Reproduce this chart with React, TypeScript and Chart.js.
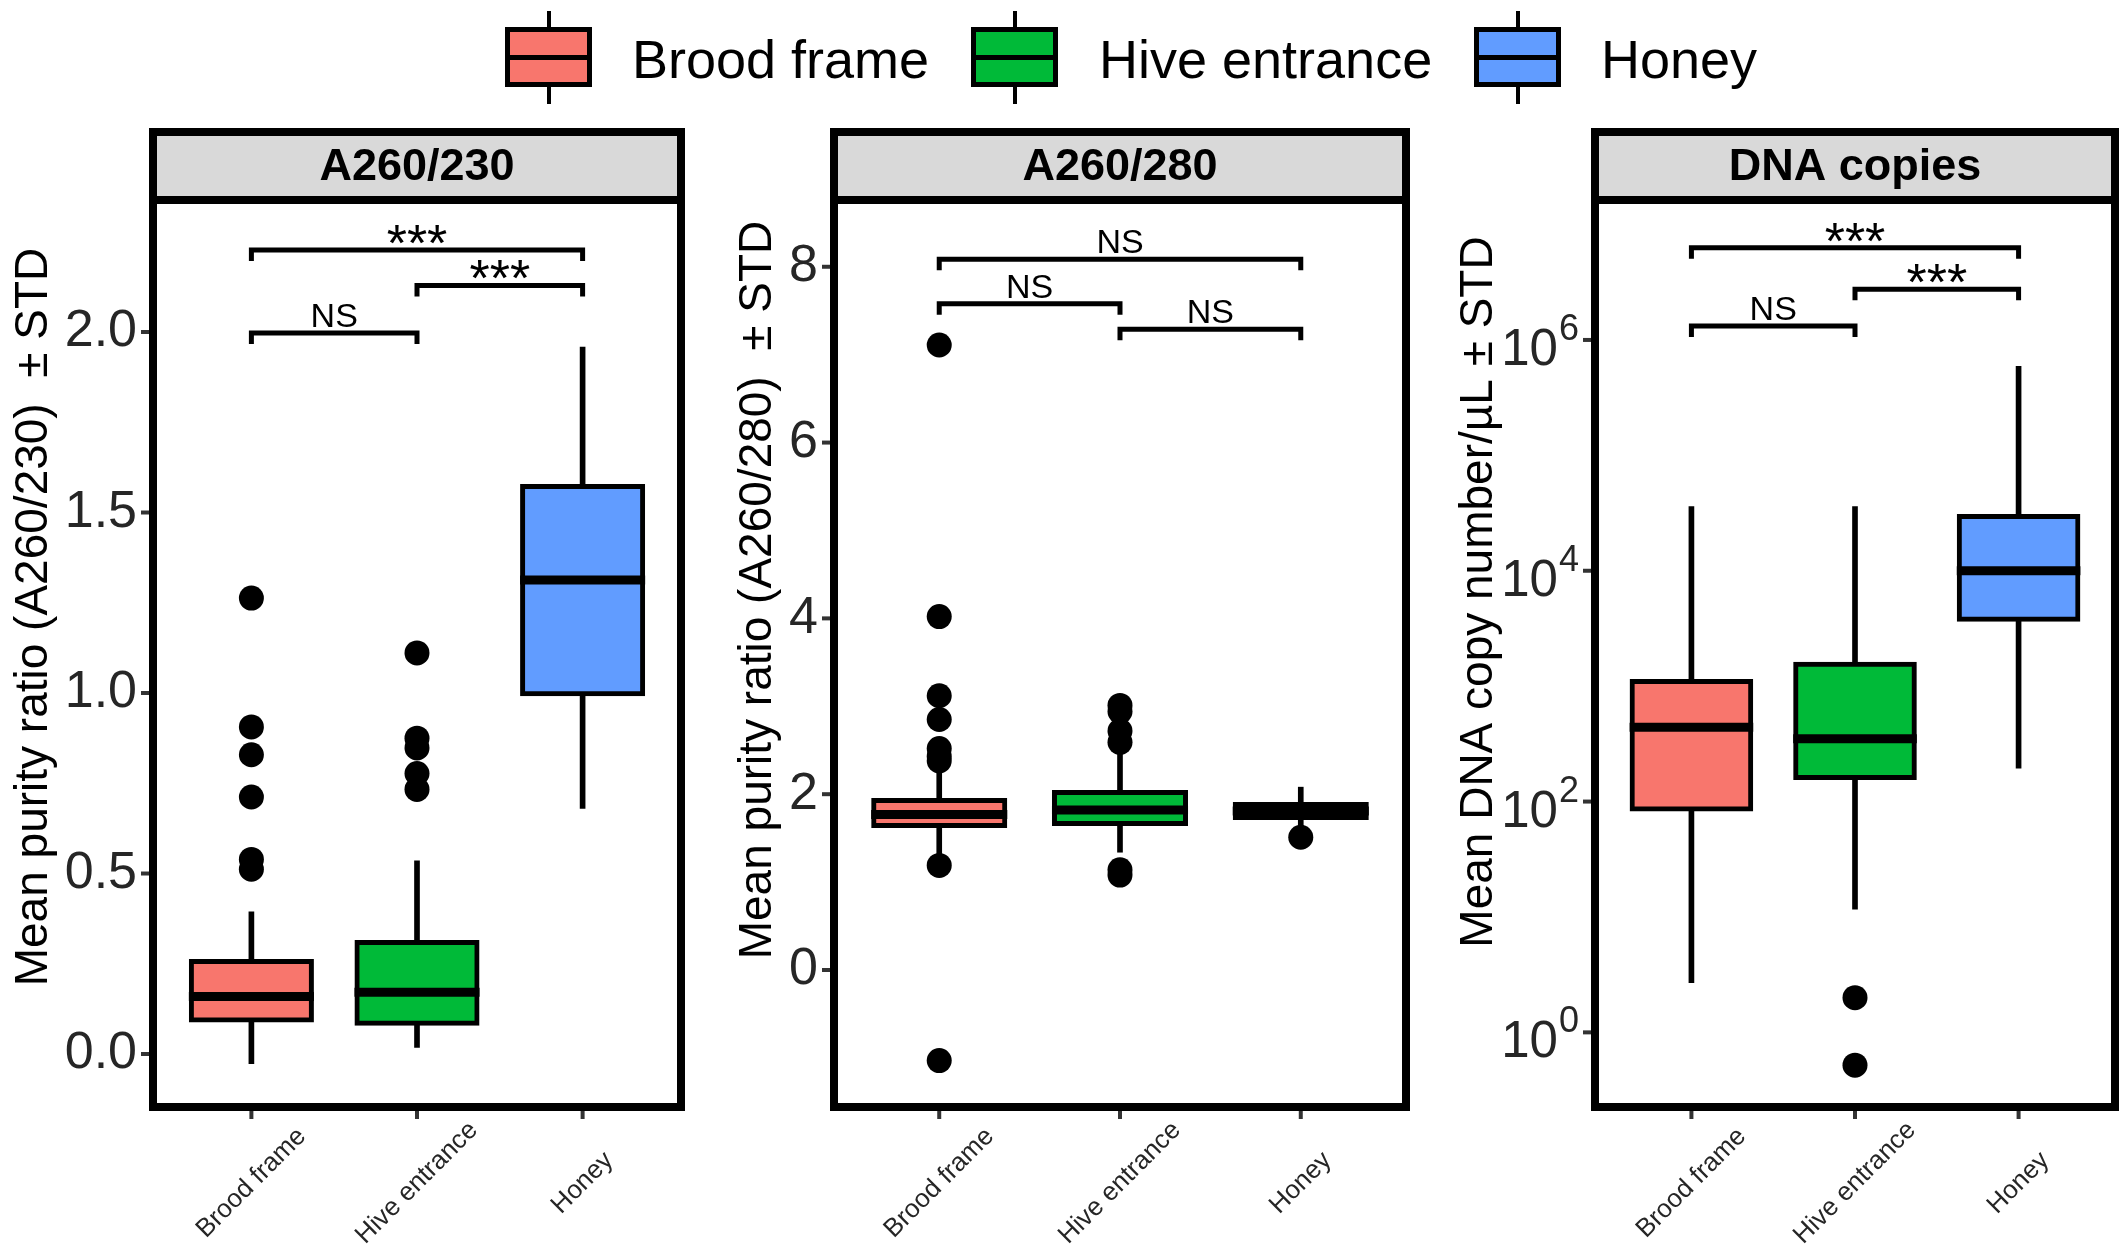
import React, { useEffect, useRef } from 'react';
import { Chart, registerables } from 'chart.js';

Chart.register(...registerables);

// ---------------- DATA ----------------
const CATEGORIES = ['Brood frame', 'Hive entrance', 'Honey'];
const COLORS = ['#F8766D', '#00BA38', '#619CFF'];

// Panel 1: A260/230
const P1_LOW = [-0.027, 0.018, 0.68];
const P1_Q1 = [0.094, 0.085, 0.998];
const P1_MED = [0.159, 0.171, 1.313];
const P1_Q3 = [0.256, 0.309, 1.572];
const P1_HIGH = [0.394, 0.535, 1.958];
const P1_OUTLIERS = [
  [1.263, 0.906, 0.829, 0.712, 0.539, 0.512],
  [1.111, 0.875, 0.848, 0.777, 0.733],
  [],
];
const P1_TICKS = [0, 0.5, 1, 1.5, 2];
const P1_TICK_LABELS = ['0.0', '0.5', '1.0', '1.5', '2.0'];
const P1_SIG_FROM = [1, 2, 1];
const P1_SIG_TO = [2, 3, 3];
const P1_SIG_Y = [1.997, 2.129, 2.227];
const P1_SIG_LABEL = ['NS', '***', '***'];

// Panel 2: A260/280
const P2_LOW = [1.3, 1.34, 1.6];
const P2_Q1 = [1.644, 1.667, 1.735];
const P2_MED = [1.769, 1.82, 1.81];
const P2_Q3 = [1.928, 2.019, 1.883];
const P2_HIGH = [2.33, 2.55, 2.08];
const P2_OUTLIERS = [
  [7.11, 4.02, 3.12, 2.85, 2.52, 2.43, 2.38, 1.19, -1.03],
  [3.01, 2.94, 2.72, 2.59, 1.14, 1.08],
  [1.51],
];
const P2_TICKS = [0, 2, 4, 6, 8];
const P2_TICK_LABELS = ['0', '2', '4', '6', '8'];
const P2_SIG_FROM = [1, 2, 1];
const P2_SIG_TO = [2, 3, 3];
const P2_SIG_Y = [7.58, 7.29, 8.085];
const P2_SIG_LABEL = ['NS', 'NS', 'NS'];

// Panel 3: DNA copies (log scale)
const P3_LOW = [2.7, 11.7, 195];
const P3_Q1 = [86, 162, 3800];
const P3_MED = [440, 350, 10000];
const P3_Q3 = [1100, 1550, 29500];
const P3_HIGH = [36000, 36000, 590000];
const P3_OUTLIERS = [[], [2.0, 0.52], []];
const P3_TICKS = [1, 100, 10000, 1000000];
const P3_TICK_EXPONENTS = ['0', '2', '4', '6'];
const P3_SIG_FROM = [1, 2, 1];
const P3_SIG_TO = [2, 3, 3];
const P3_SIG_Y = [1.32e6, 2.75e6, 6.3e6];
const P3_SIG_LABEL = ['NS', '***', '***'];

// ---------------- STYLE / LAYOUT ----------------
const FONT = '"Liberation Sans", Arial, Helvetica, sans-serif';
const CANVAS_H = 1256;
const AREA_TOP = 204;
const AREA_BOTTOM = 1103;
const STRIP_TOP = 128;
const BORDER = 8;
const X_LABEL_Y = 1183;
const TEXT_COLOR = '#262626';

type PanelCfg = {
  title: string;
  yTitle: string;
  low: number[];
  q1: number[];
  med: number[];
  q3: number[];
  high: number[];
  outliers: number[][];
  ticks: number[];
  tickLabels: string[];
  log: boolean;
  sigFrom: number[];
  sigTo: number[];
  sigY: number[];
  sigLabel: string[];
  yMin: number;
  yMax: number;
  xMin: number;
  xMax: number;
  canvasLeft: number;
  canvasWidth: number;
  areaLeft: number;
  areaRight: number;
  titleX: number;
  titleY: number;
};

const PANELS: PanelCfg[] = [
  {
    title: 'A260/230',
    yTitle: 'Mean purity ratio (A260/230)  \u00B1 STD',
    low: P1_LOW, q1: P1_Q1, med: P1_MED, q3: P1_Q3, high: P1_HIGH, outliers: P1_OUTLIERS,
    ticks: P1_TICKS, tickLabels: P1_TICK_LABELS, log: false,
    sigFrom: P1_SIG_FROM, sigTo: P1_SIG_TO, sigY: P1_SIG_Y, sigLabel: P1_SIG_LABEL,
    yMin: -0.1357, yMax: 2.3546, xMin: 0.43, xMax: 3.57,
    canvasLeft: 0, canvasWidth: 720, areaLeft: 157, areaRight: 677, titleX: 47, titleY: 617,
  },
  {
    title: 'A260/280',
    yTitle: 'Mean purity ratio (A260/280)  \u00B1 STD',
    low: P2_LOW, q1: P2_Q1, med: P2_MED, q3: P2_Q3, high: P2_HIGH, outliers: P2_OUTLIERS,
    ticks: P2_TICKS, tickLabels: P2_TICK_LABELS, log: false,
    sigFrom: P2_SIG_FROM, sigTo: P2_SIG_TO, sigY: P2_SIG_Y, sigLabel: P2_SIG_LABEL,
    yMin: -1.513, yMax: 8.714, xMin: 0.44, xMax: 3.56,
    canvasLeft: 720, canvasWidth: 720, areaLeft: 118, areaRight: 682, titleX: 51, titleY: 590,
  },
  {
    title: 'DNA copies',
    yTitle: 'Mean DNA copy number/\u00B5L \u00B1 STD',
    low: P3_LOW, q1: P3_Q1, med: P3_MED, q3: P3_Q3, high: P3_HIGH, outliers: P3_OUTLIERS,
    ticks: P3_TICKS, tickLabels: P3_TICK_EXPONENTS, log: true,
    sigFrom: P3_SIG_FROM, sigTo: P3_SIG_TO, sigY: P3_SIG_Y, sigLabel: P3_SIG_LABEL,
    yMin: Math.pow(10, -0.612), yMax: Math.pow(10, 7.178), xMin: 0.435, xMax: 3.565,
    canvasLeft: 1440, canvasWidth: 688, areaLeft: 159, areaRight: 671, titleX: 52, titleY: 592,
  },
];

function makePlugin(cfg: PanelCfg) {
  return {
    id: 'panelDecor',
    afterDraw(chart: any) {
      const ctx: CanvasRenderingContext2D = chart.ctx;
      const { left, right, top, bottom } = chart.chartArea;
      const xs = chart.scales.x;
      const ys = chart.scales.y;
      ctx.save();

      // medians
      const meta = chart.getDatasetMeta(0);
      ctx.strokeStyle = '#000';
      ctx.lineWidth = 9;
      ctx.lineCap = 'butt';
      meta.data.forEach((el: any, i: number) => {
        const p = el.getProps(['x', 'width'], true);
        const py = ys.getPixelForValue(cfg.med[i]);
        const half = p.width / 2 + 2.5;
        ctx.beginPath();
        ctx.moveTo(p.x - half, py);
        ctx.lineTo(p.x + half, py);
        ctx.stroke();
      });

      // strip background
      ctx.fillStyle = '#D9D9D9';
      ctx.fillRect(left - BORDER, STRIP_TOP, right - left + 2 * BORDER, top - STRIP_TOP);
      // strip title
      ctx.fillStyle = '#000';
      ctx.font = `bold 45px ${FONT}`;
      ctx.textAlign = 'center';
      ctx.textBaseline = 'middle';
      ctx.fillText(cfg.title, (left + right) / 2, (STRIP_TOP + BORDER + top - BORDER) / 2 + 2);

      // borders
      ctx.strokeStyle = '#000';
      ctx.lineWidth = BORDER;
      ctx.lineJoin = 'miter';
      ctx.strokeRect(left - BORDER / 2, STRIP_TOP + BORDER / 2, right - left + BORDER, bottom - STRIP_TOP);
      ctx.beginPath();
      ctx.moveTo(left - BORDER, top - BORDER / 2);
      ctx.lineTo(right + BORDER, top - BORDER / 2);
      ctx.stroke();

      // y tick marks
      ctx.strokeStyle = '#333';
      ctx.lineWidth = 4;
      cfg.ticks.forEach((v) => {
        const py = ys.getPixelForValue(v);
        ctx.beginPath();
        ctx.moveTo(left - BORDER - 8, py);
        ctx.lineTo(left - BORDER, py);
        ctx.stroke();
      });

      // log axis labels with superscripts
      if (cfg.log) {
        ctx.fillStyle = TEXT_COLOR;
        ctx.textAlign = 'right';
        ctx.textBaseline = 'alphabetic';
        cfg.ticks.forEach((v, i) => {
          const py = ys.getPixelForValue(v);
          const xr = left - 20;
          ctx.font = `36px ${FONT}`;
          const sup = cfg.tickLabels[i];
          const sw = ctx.measureText(sup).width;
          ctx.fillText(sup, xr, py);
          ctx.font = `51px ${FONT}`;
          ctx.fillText('10', xr - sw - 1, py + 25);
        });
      }

      // x tick marks + labels
      CATEGORIES.forEach((c, i) => {
        const px = xs.getPixelForValue(i + 1);
        ctx.strokeStyle = '#333';
        ctx.lineWidth = 4;
        ctx.beginPath();
        ctx.moveTo(px, bottom + BORDER);
        ctx.lineTo(px, bottom + BORDER + 8);
        ctx.stroke();
        ctx.save();
        ctx.translate(px, X_LABEL_Y);
        ctx.rotate(-Math.PI / 4);
        ctx.fillStyle = TEXT_COLOR;
        ctx.font = `26px ${FONT}`;
        ctx.textAlign = 'center';
        ctx.textBaseline = 'middle';
        ctx.fillText(c, 0, 0);
        ctx.restore();
      });

      // significance brackets
      ctx.strokeStyle = '#000';
      ctx.lineWidth = 5;
      ctx.fillStyle = '#000';
      cfg.sigY.forEach((yv, i) => {
        const py = ys.getPixelForValue(yv);
        const x1 = xs.getPixelForValue(cfg.sigFrom[i]);
        const x2 = xs.getPixelForValue(cfg.sigTo[i]);
        ctx.beginPath();
        ctx.moveTo(x1, py + 11);
        ctx.lineTo(x1, py);
        ctx.lineTo(x2, py);
        ctx.lineTo(x2, py + 11);
        ctx.stroke();
        const lab = cfg.sigLabel[i];
        ctx.textAlign = 'center';
        ctx.textBaseline = 'alphabetic';
        if (lab === 'NS') {
          ctx.font = `34px ${FONT}`;
          ctx.fillText(lab, (x1 + x2) / 2, py - 6);
        } else {
          ctx.font = `52px ${FONT}`;
          ctx.fillText(lab, (x1 + x2) / 2, py + 11);
        }
      });

      // y axis title
      ctx.save();
      ctx.translate(cfg.titleX, cfg.titleY);
      ctx.rotate(-Math.PI / 2);
      ctx.fillStyle = '#000';
      ctx.font = `46px ${FONT}`;
      ctx.textAlign = 'center';
      ctx.textBaseline = 'alphabetic';
      ctx.fillText(cfg.yTitle, 0, 0);
      ctx.restore();

      ctx.restore();
    },
  };
}

function Panel({ cfg }: { cfg: PanelCfg }) {
  const ref = useRef<HTMLCanvasElement | null>(null);
  useEffect(() => {
    if (!ref.current) return;
    const boxData = CATEGORIES.map((_, i) => ({ x: i + 1, y: [cfg.q1[i], cfg.q3[i]] }));
    const whiskerData = CATEGORIES.map((_, i) => ({ x: i + 1, y: [cfg.low[i], cfg.high[i]] }));
    const outlierData: { x: number; y: number }[] = [];
    cfg.outliers.forEach((arr, i) => arr.forEach((v) => outlierData.push({ x: i + 1, y: v })));

    const chart = new Chart(ref.current, {
      type: 'bar',
      data: {
        datasets: [
          {
            type: 'bar',
            label: 'box',
            data: boxData as any,
            backgroundColor: COLORS,
            borderColor: '#000',
            borderWidth: 5,
            borderSkipped: false,
            inflateAmount: 2.5,
            grouped: false,
            categoryPercentage: 1,
            barPercentage: 0.725,
            order: 1,
          } as any,
          {
            type: 'bar',
            label: 'whisker',
            data: whiskerData as any,
            backgroundColor: '#000',
            borderWidth: 0,
            grouped: false,
            categoryPercentage: 1,
            barPercentage: 1,
            maxBarThickness: 5,
            order: 2,
          } as any,
          {
            type: 'scatter',
            label: 'outliers',
            data: outlierData as any,
            pointRadius: 12.5,
            pointBackgroundColor: '#000',
            pointBorderWidth: 0,
            showLine: false,
            order: 0,
          } as any,
        ],
      },
      options: {
        animation: false,
        responsive: false,
        events: [],
        layout: {
          padding: {
            left: 0,
            right: cfg.canvasWidth - cfg.areaRight,
            top: AREA_TOP,
            bottom: CANVAS_H - AREA_BOTTOM,
          },
        },
        plugins: { legend: { display: false }, tooltip: { enabled: false } },
        scales: {
          x: {
            type: 'linear',
            min: cfg.xMin,
            max: cfg.xMax,
            offset: false,
            bounds: 'data',
            display: false,
            grid: { offset: false },
            afterBuildTicks: (s: any) => {
              s.ticks = CATEGORIES.map((_, i) => ({ value: i + 1 }));
            },
          },
          y: {
            type: cfg.log ? 'logarithmic' : 'linear',
            position: 'left',
            min: cfg.yMin,
            max: cfg.yMax,
            offset: false,
            grid: { display: false, drawTicks: false },
            border: { display: false },
            ticks: {
              display: !cfg.log,
              autoSkip: false,
              padding: 20,
              color: TEXT_COLOR,
              font: { family: FONT, size: 52 },
              callback: (_v: any, i: number) => cfg.tickLabels[i],
            },
            afterBuildTicks: (s: any) => {
              s.ticks = cfg.ticks.map((v) => ({ value: v }));
            },
            afterFit: (s: any) => {
              s.width = cfg.areaLeft;
            },
          } as any,
        },
      } as any,
      plugins: [makePlugin(cfg)],
    });
    return () => chart.destroy();
  }, [cfg]);

  return (
    <canvas
      ref={ref}
      width={cfg.canvasWidth}
      height={CANVAS_H}
      style={{
        position: 'absolute',
        left: cfg.canvasLeft,
        top: 0,
        width: cfg.canvasWidth,
        height: CANVAS_H,
        display: 'block',
      }}
    />
  );
}

const LEGEND_KEY_X = [505, 971, 1474];
const LEGEND_TEXT_X = [632, 1099, 1601];

function LegendKey({ color, left }: { color: string; left: number }) {
  return (
    <div style={{ position: 'absolute', left, top: 11, width: 87, height: 93 }}>
      <div style={{ position: 'absolute', left: 41.5, top: 0, width: 4, height: 93, background: '#000' }} />
      <div
        style={{
          position: 'absolute',
          left: 0,
          top: 16,
          width: 87,
          height: 60,
          boxSizing: 'border-box',
          border: '5px solid #000',
          background: color,
        }}
      />
      <div style={{ position: 'absolute', left: 0, top: 43.5, width: 87, height: 5, background: '#000' }} />
    </div>
  );
}

export default function App() {
  return (
    <div
      style={{
        position: 'absolute',
        left: 0,
        top: 0,
        width: 2128,
        height: 1256,
        background: '#fff',
        fontFamily: FONT,
        overflow: 'hidden',
      }}
    >
      {CATEGORIES.map((c, i) => (
        <React.Fragment key={c}>
          <LegendKey color={COLORS[i]} left={LEGEND_KEY_X[i]} />
          <div
            style={{
              position: 'absolute',
              left: LEGEND_TEXT_X[i],
              top: 32,
              fontSize: 54,
              lineHeight: '54px',
              color: '#000',
              whiteSpace: 'nowrap',
            }}
          >
            {c}
          </div>
        </React.Fragment>
      ))}
      {PANELS.map((p) => (
        <Panel key={p.title} cfg={p} />
      ))}
    </div>
  );
}
